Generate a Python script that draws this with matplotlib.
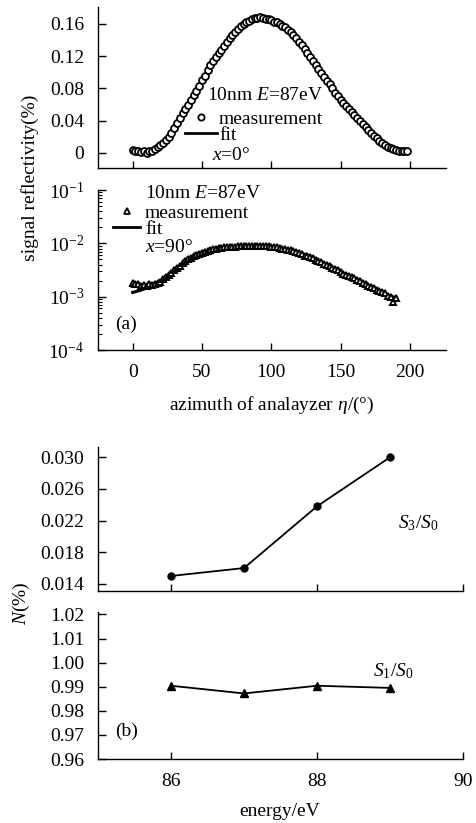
import numpy as np
import matplotlib
matplotlib.use("Agg")
import matplotlib.pyplot as plt
from matplotlib.lines import Line2D
from matplotlib.ticker import LogLocator, NullFormatter

plt.rcParams['font.family'] = ['Liberation Serif', 'DejaVu Serif']
plt.rcParams['mathtext.fontset'] = 'custom'
plt.rcParams['mathtext.rm'] = 'Liberation Serif'
plt.rcParams['mathtext.it'] = 'Liberation Serif:italic'
plt.rcParams['mathtext.bf'] = 'Liberation Serif:bold'
plt.rcParams['font.size'] = 14
plt.rcParams['axes.linewidth'] = 1.0

W, H = 476, 823

# (a) x=0 deg, linear scale
eta_meas0 = np.arange(0, 200, 2)
refl_meas0 = [0.004, 0.003, 0.002, 0.001, 0.002, 0.000, 0.002, 0.003, 0.005, 0.007,
              0.010, 0.012, 0.016, 0.020, 0.025, 0.031, 0.037, 0.044, 0.050, 0.054,
              0.060, 0.066, 0.072, 0.077, 0.083, 0.090, 0.096, 0.103, 0.109, 0.114,
              0.119, 0.124, 0.128, 0.133, 0.138, 0.142, 0.146, 0.150, 0.154, 0.157,
              0.160, 0.162, 0.164, 0.166, 0.167, 0.167, 0.168, 0.167, 0.166, 0.166,
              0.165, 0.163, 0.162, 0.160, 0.158, 0.156, 0.153, 0.150, 0.146, 0.142,
              0.138, 0.134, 0.129, 0.124, 0.119, 0.114, 0.109, 0.104, 0.099, 0.094,
              0.089, 0.085, 0.080, 0.075, 0.071, 0.066, 0.062, 0.058, 0.055, 0.051,
              0.047, 0.043, 0.040, 0.036, 0.032, 0.028, 0.025, 0.021, 0.018, 0.015,
              0.012, 0.010, 0.008, 0.006, 0.005, 0.004, 0.003, 0.003, 0.002, 0.002]
eta_fit0 = np.arange(0, 200, 5)
refl_fit0 = [0.002, 0.001, 0.002, 0.004, 0.009, 0.018, 0.030, 0.045, 0.059, 0.074,
             0.089, 0.105, 0.118, 0.130, 0.142, 0.152, 0.159, 0.164, 0.166, 0.166,
             0.164, 0.160, 0.155, 0.148, 0.139, 0.127, 0.115, 0.102, 0.090, 0.078,
             0.067, 0.057, 0.047, 0.038, 0.029, 0.020, 0.012, 0.007, 0.004, 0.002]

# (a) x=90 deg, log scale (values in units of 1e-3)
eta_meas90 = np.arange(0, 192, 2)
refl_meas90 = [1.8, 1.7, 1.75, 1.6, 1.65, 1.6, 1.7, 1.65, 1.75, 1.8,
               1.9, 2.1, 2.3, 2.6, 2.8, 3.1, 3.4, 3.8, 4.2, 4.6,
               5.0, 5.3, 5.7, 6.0, 6.3, 6.6, 6.9, 7.2, 7.5, 7.8,
               8.0, 8.2, 8.3, 8.4, 8.5, 8.6, 8.7, 8.7, 8.8, 8.9,
               8.9, 9.0, 9.0, 9.0, 9.1, 9.0, 9.0, 9.0, 8.9, 8.8,
               8.7, 8.5, 8.4, 8.2, 8.0, 7.8, 7.6, 7.4, 7.1, 6.8,
               6.5, 6.2, 5.9, 5.7, 5.5, 5.2, 4.9, 4.6, 4.4, 4.1,
               3.9, 3.7, 3.5, 3.3, 3.1, 2.9, 2.7, 2.6, 2.4, 2.3,
               2.2, 2.05, 1.95, 1.8, 1.7, 1.6, 1.5, 1.45, 1.35, 1.3,
               1.2, 1.15, 1.05, 1.0, 0.8, 0.95]
eta_fit90 = np.arange(0, 195, 5)
refl_fit90 = [1.2, 1.3, 1.45, 1.65, 1.95, 2.4, 3.0, 3.7, 4.5, 5.4,
              6.2, 7.0, 7.6, 8.1, 8.5, 8.7, 8.8, 8.9, 8.9, 8.8,
              8.6, 8.3, 7.8, 7.2, 6.5, 5.8, 5.1, 4.4, 3.8, 3.3,
              2.8, 2.4, 2.1, 1.8, 1.55, 1.35, 1.2, 1.05, 0.95]

# (b) Stokes ratios vs energy
energy = [86, 87, 88, 89]
s3_s0 = [0.0150, 0.0160, 0.0238, 0.0300]
s1_s0 = [0.9904, 0.9872, 0.9904, 0.9895]

eta_ticks = [0, 50, 100, 150, 200]
energy_ticks = [86, 88, 90]


def fx(x):
    return x / W


def fy(y):
    return 1 - y / H


def axes_px(left, right, top, bottom):
    return fig.add_axes([fx(left), fy(bottom), fx(right) - fx(left), fy(top) - fy(bottom)])


def style(ax):
    ax.spines['top'].set_visible(False)
    ax.spines['right'].set_visible(False)
    ax.tick_params(axis='y', which='major', direction='in', length=6, width=1, pad=10, labelsize=14)
    ax.tick_params(axis='x', which='major', direction='in', length=5, width=1, pad=10, labelsize=14)


fig = plt.figure(figsize=(W / 100, H / 100), dpi=100)

# --- top panel, x=0
ax1 = axes_px(98, 446, 7, 168)
ax1.plot(eta_fit0, refl_fit0, color='black', lw=2.0, zorder=2)
ax1.plot(eta_meas0, refl_meas0, ls='none', marker='o', ms=5.0, mfc='white', mec='black', mew=1.3, zorder=3)
ax1.set_xlim(-25, 226)
ax1.set_ylim(-0.0186, 0.181)
ax1.set_xticks(eta_ticks)
ax1.set_yticks([0, 0.04, 0.08, 0.12, 0.16])
ax1.set_yticklabels(['0', '0.04', '0.08', '0.12', '0.16'])
style(ax1)
ax1.tick_params(labelbottom=False)
h1 = [Line2D([], [], ls='none', marker='o', ms=4.5, mfc='white', mec='black', mew=1.3),
      Line2D([], [], color='black', lw=2.0)]
ax1.legend(h1, ['measurement', 'fit'], loc='center left', bbox_to_anchor=(fx(185), fy(127)),
           bbox_transform=fig.transFigure, frameon=False, borderpad=0, borderaxespad=0,
           handlelength=1.65, handletextpad=0.1, labelspacing=-0.1, numpoints=1, fontsize=14)
fig.text(fx(207), fy(95), '10nm $E$=87eV', ha='left', va='center', fontsize=14)
fig.text(fx(212), fy(155), '$x$=0°', ha='left', va='center', fontsize=14)

# --- log panel, x=90
ax2 = axes_px(98, 446, 190, 350)
ax2.set_yscale('log')
ax2.plot(eta_fit90, np.array(refl_fit90) * 1e-3, color='black', lw=2.2, zorder=2)
ax2.plot(eta_meas90, np.array(refl_meas90) * 1e-3, ls='none', marker='^', ms=5.0,
         mfc='white', mec='black', mew=1.4, zorder=3)
ax2.set_xlim(-25, 226)
ax2.set_ylim(1e-4, 1e-1)
ax2.set_xticks(eta_ticks)
ax2.yaxis.set_major_locator(LogLocator(base=10, numticks=10))
ax2.yaxis.set_minor_locator(LogLocator(base=10, subs=np.arange(2, 10), numticks=20))
ax2.yaxis.set_minor_formatter(NullFormatter())
style(ax2)
ax2.tick_params(axis='y', which='minor', direction='in', length=3, width=0.8)
h2 = [Line2D([], [], ls='none', marker='^', ms=4.5, mfc='white', mec='black', mew=1.3),
      Line2D([], [], color='black', lw=2.0)]
ax2.legend(h2, ['measurement', 'fit'], loc='center left', bbox_to_anchor=(fx(113), fy(221)),
           bbox_transform=fig.transFigure, frameon=False, borderpad=0, borderaxespad=0,
           handlelength=1.4, handletextpad=0.25, labelspacing=-0.1, numpoints=1, fontsize=14)
fig.text(fx(145), fy(194), '10nm $E$=87eV', ha='left', va='center', fontsize=14)
fig.text(fx(145), fy(248), '$x$=90°', ha='left', va='center', fontsize=14)
fig.text(fx(126), fy(324), '(a)', ha='center', va='center', fontsize=14)

fig.text(fx(30), fy(178), 'signal reflectivity(%)', rotation=90, ha='center', va='center', fontsize=14)
fig.text(fx(272), fy(405), r'azimuth of analayzer $\eta$/(°)', ha='center', va='center', fontsize=14)

# --- (b) S3/S0
ax3 = axes_px(98, 463, 447, 591)
ax3.plot(energy, s3_s0, color='black', lw=1.3, marker='o', ms=5)
ax3.set_xlim(85, 90)
ax3.set_ylim(0.0131, 0.0313)
ax3.set_xticks(energy_ticks)
ax3.set_yticks([0.014, 0.018, 0.022, 0.026, 0.030])
ax3.set_yticklabels(['0.014', '0.018', '0.022', '0.026', '0.030'])
style(ax3)
ax3.tick_params(labelbottom=False)
fig.text(fx(418), fy(523), '$S_3/S_0$', ha='center', va='center', fontsize=14)

# --- (b) S1/S0
ax4 = axes_px(98, 463, 612, 759)
ax4.plot(energy, s1_s0, color='black', lw=1.3, marker='^', ms=5.5)
ax4.set_xlim(85, 90)
ax4.set_ylim(0.96, 1.021)
ax4.set_xticks(energy_ticks)
ax4.set_yticks([0.96, 0.97, 0.98, 0.99, 1.00, 1.01, 1.02])
ax4.set_yticklabels(['0.96', '0.97', '0.98', '0.99', '1.00', '1.01', '1.02'])
style(ax4)
fig.text(fx(393), fy(671), '$S_1/S_0$', ha='center', va='center', fontsize=14)
fig.text(fx(127), fy(731), '(b)', ha='center', va='center', fontsize=14)

fig.text(fx(21), fy(603), '$N$(%)', rotation=90, ha='center', va='center', fontsize=14)
fig.text(fx(280), fy(812), 'energy/eV', ha='center', va='center', fontsize=14)

fig.savefig('out.png', dpi=100)
